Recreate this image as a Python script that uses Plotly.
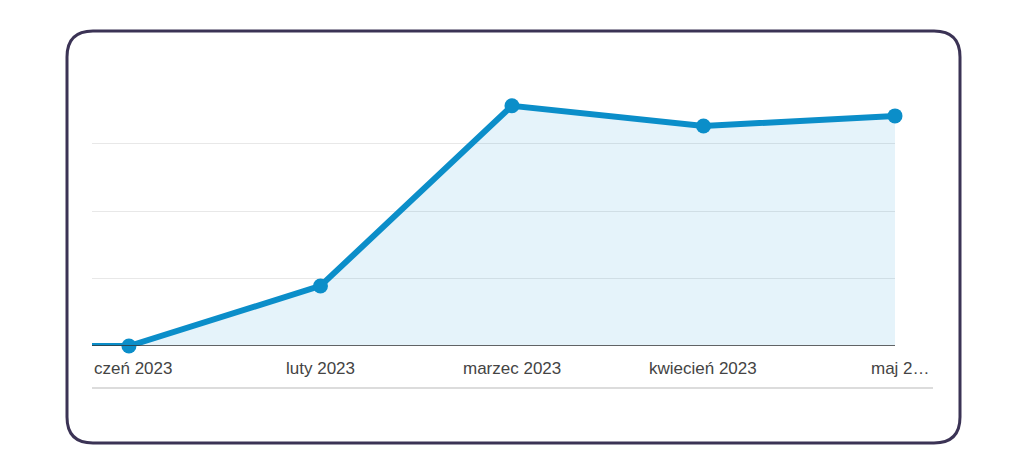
import plotly.graph_objects as go

months = [0, 1, 2, 3, 4]
values = [0.0, 0.89, 3.56, 3.26, 3.41]
tick_labels = ["czeń 2023", "luty 2023", "marzec 2023", "kwiecień 2023", "maj 2…"]

W, H = 1027, 476
OX, OY = 8, 7  # page offset compensation
L, R, T, B = 92 - OX, 895 - OX, 75 - OY, 345 - OY
pw, ph = R - L, B - T
def px(x): return (x - OX - L) / pw
def py(y): return (B - (y - OY)) / ph

xmin = -0.193
fig = go.Figure()
fig.add_trace(go.Scatter(x=months, y=values, mode="lines+markers", fill="tozeroy",
    fillcolor="rgba(20,150,210,0.11)", line=dict(color="#0b8ec9", width=6),
    marker=dict(size=15, color="#0b8ec9"), hoverinfo="skip", cliponaxis=False))

shapes = []
shapes.append(dict(type="line", xref="x", yref="y", x0=xmin, x1=months[0], y0=values[0], y1=values[0],
                   line=dict(color="#0b8ec9", width=6)))
shapes.append(dict(type="line", xref="paper", yref="paper", x0=0, x1=px(933), y0=py(387), y1=py(387),
                   line=dict(color="#d0d0d0", width=1.5)))
x0, x1, y0, y1 = px(67), px(960), py(442), py(30)
rx, ry = 26 / pw, 26 / ph
path = (f"M {x0+rx},{y1} L {x1-rx},{y1} Q {x1},{y1} {x1},{y1-ry} L {x1},{y0+ry} Q {x1},{y0} {x1-rx},{y0} "
        f"L {x0+rx},{y0} Q {x0},{y0} {x0},{y0+ry} L {x0},{y1-ry} Q {x0},{y1} {x0+rx},{y1} Z")
shapes.append(dict(type="path", xref="paper", yref="paper", path=path,
                   line=dict(color="#3b3355", width=3)))

annotations = []
for i, t in enumerate(tick_labels):
    if i == 0:
        annotations.append(dict(x=0, xref="paper", xanchor="left", text=t))
    elif i == len(tick_labels) - 1:
        annotations.append(dict(x=px(932), xref="paper", xanchor="right", text=t))
    else:
        annotations.append(dict(x=months[i], xref="x", xanchor="center", text=t))
for a in annotations:
    a.update(y=py(367), yref="paper", yanchor="middle", showarrow=False,
             font=dict(family="Liberation Sans, Arial", size=17, color="#444"))

fig.update_layout(width=W, height=H, margin=dict(l=L, r=W - R, t=T, b=H - B),
    paper_bgcolor="white", plot_bgcolor="white", showlegend=False,
    shapes=shapes, annotations=annotations,
    xaxis=dict(range=[xmin, 4], showticklabels=False, showgrid=False, zeroline=False, fixedrange=True),
    yaxis=dict(range=[0, 4.001], tickvals=[1, 2, 3, 4], showticklabels=False, showgrid=True,
               gridcolor="#e8e8e8", zeroline=False, showline=False, fixedrange=True))
fig.add_hline(y=0, line=dict(color="#333", width=1.5))
fig.write_html("out.html")
